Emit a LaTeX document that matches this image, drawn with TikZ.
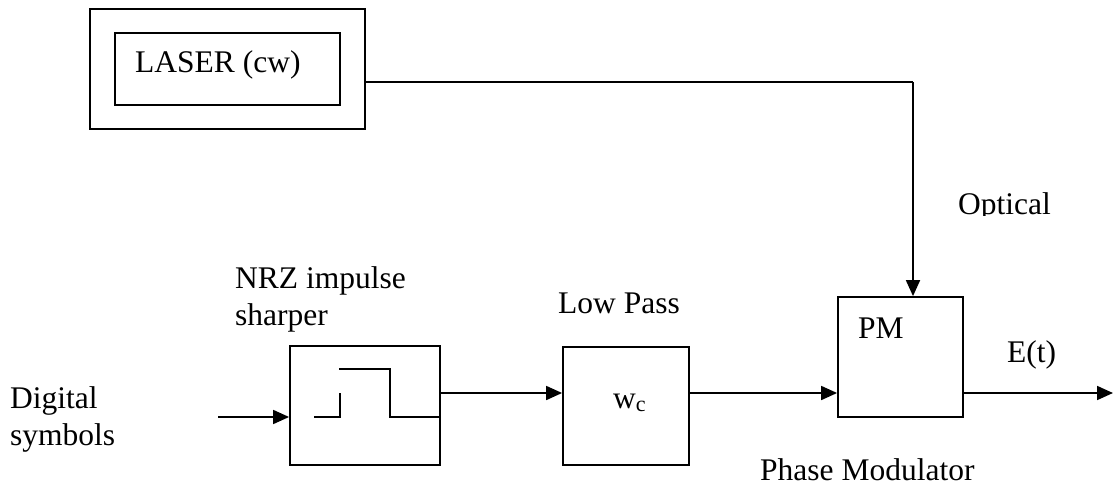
\documentclass[tikz,border=0pt]{standalone}
\usepackage{fontspec}
\setmainfont{Liberation Serif}
\usetikzlibrary{arrows.meta}
\tikzset{
  blk/.style={draw, line width=1.8pt, inner sep=0pt, fill=none},
  lbl/.style={anchor=base west, inner sep=0pt, font=\fontsize{31.5}{37}\selectfont},
  wire/.style={line width=1.8pt},
  arr/.style={line width=1.8pt, -{Triangle[length=16pt,width=14pt]}},
}
\begin{document}
\begin{tikzpicture}[x=1pt,y=-1pt]
\useasboundingbox (0,0) rectangle (1113,486);
% boxes
\node[blk, minimum width=275pt, minimum height=120pt] (laserout) at (227.5,69) {};
\node[blk, minimum width=225pt, minimum height=72pt] (laserin) at (227.5,69) {};
\node[blk, minimum width=150pt, minimum height=119pt] (nrz) at (365,405.5) {};
\node[blk, minimum width=126pt, minimum height=118pt] (lp) at (626,406) {};
\node[blk, minimum width=125pt, minimum height=120pt] (pm) at (900.5,357) {};
% texts
\node[lbl] (tlaser) at (135,73) {LASER (cw)};
\begin{scope}
\clip (940,180) rectangle (1070,216);
\node[lbl] (topt) at (958,215) {Optical};
\end{scope}
\node[lbl] (tnrz1) at (235,288) {NRZ impulse};
\node[lbl] (tnrz2) at (235,325) {sharper};
\node[lbl] (tdig1) at (10,408) {Digital};
\node[lbl] (tdig2) at (10,445) {symbols};
\node[lbl] (tlp) at (558,313) {Low Pass};
\node[lbl] (twc) at (613,408) {w\textsubscript{c}};
\node[lbl] (tpm) at (858,338) {PM};
\node[lbl] (tet) at (1007,362) {E(t)};
\node[lbl] (tphase) at (760,480) {Phase Modulator};
% pulse symbol inside NRZ box
\draw[wire] (314,417) -- (340,417) -- (340,393);
\draw[wire] (339,369) -- (390,369) -- (390,417) -- (nrz.east |- 0,417);
% connectors
\coordinate (din) at (218,417);
\coordinate (bend) at (913,82);
\coordinate (eout) at (1113,393);
\draw[wire] ([yshift=-13pt]laserout.east) -- (bend);
\draw[arr] (bend) -- ([xshift=12.5pt]pm.north);
\draw[arr] (din) -- ([yshift=-11.5pt]nrz.west);
\draw[arr] ([yshift=12.5pt]nrz.east) -- ([yshift=13pt]lp.west);
\draw[arr] ([yshift=13pt]lp.east) -- ([yshift=-36pt]pm.west);
\draw[arr] ([yshift=-36pt]pm.east) -- (eout);
\end{tikzpicture}
\end{document}
